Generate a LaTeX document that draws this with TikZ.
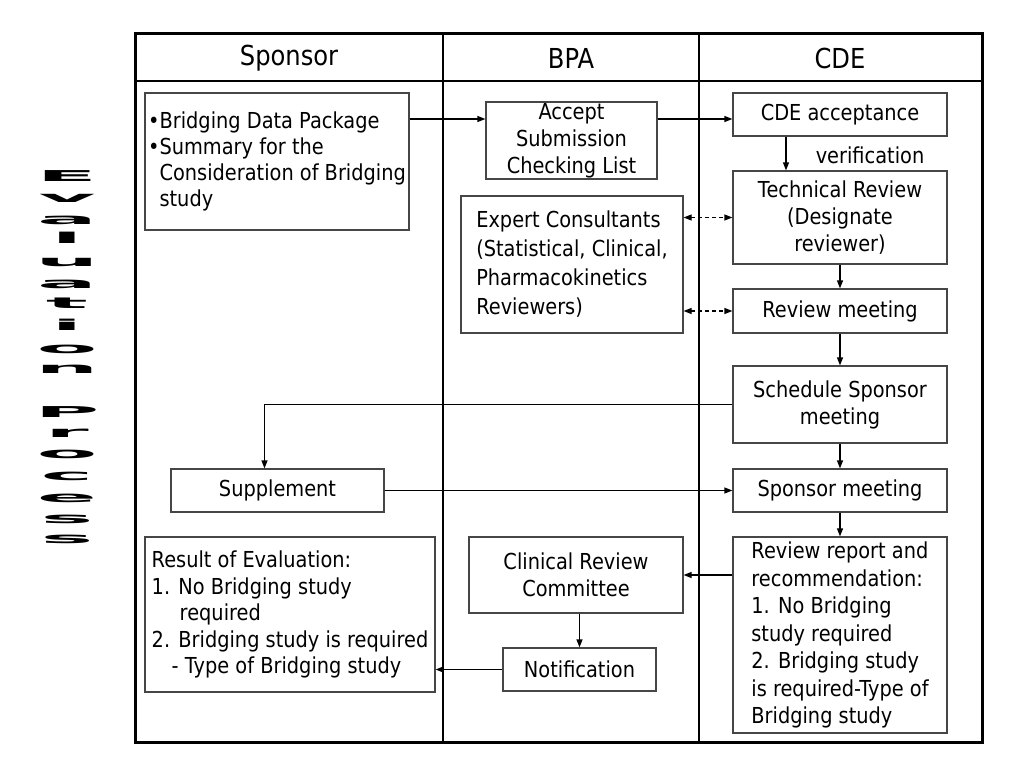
\documentclass[tikz,border=0pt]{standalone}
\usepackage{fontspec}
\setmainfont{DejaVu Sans}[FakeStretch=0.88]
\usetikzlibrary{arrows.meta,calc}
\definecolor{boxgray}{RGB}{70,70,70}
\newcommand{\vl}[1]{\scalebox{5}[0.75]{#1}}
\begin{document}
\begin{tikzpicture}[x=1pt,y=-1pt,
  box/.style={draw=boxgray,line width=1.2pt,inner sep=0pt,align=center,font=\fontsize{22}{27}\selectfont},
  arr/.style={line width=1.2pt,-{Triangle[length=8pt,width=6pt]}},
  darr/.style={line width=1.2pt,dash pattern=on 4pt off 3pt,{Triangle[length=8pt,width=6pt]}-{Triangle[length=8pt,width=6pt]}},
  head/.style={inner sep=0pt,font=\fontsize{27.5}{30}\selectfont},
  lbl/.style={inner sep=0pt,font=\fontsize{22}{27}\selectfont},
  letter/.style={anchor=base,inner sep=0pt,font=\fontsize{20}{20}\selectfont\bfseries}]
\useasboundingbox (0,0) rectangle (1024,768);
% frame
\draw[line width=3pt] (135,34) rectangle (982,742);
\draw[line width=1.3pt] (135,81) -- (982,81);
\draw[line width=1.3pt] (443,34) -- (443,742);
\draw[line width=1.3pt] (699,34) -- (699,742);
% headers
\node[head] (hs) at (289,58) {Sponsor};
\node[head] (hb) at (571,58) {BPA};
\node[head] (hc) at (840,58) {CDE};
% boxes
\node[box,align=left,minimum width=264pt,minimum height=137pt,font=\fontsize{22}{26}\selectfont] (bdp) at (277,161.5)
  {•Bridging Data Package\\•Summary for the\\\phantom{•}Consideration of Bridging\\\phantom{•}study};
\node[box,minimum width=171pt,minimum height=77pt] (accept) at (571.5,140.5) {\raisebox{-3pt}{\parbox{171pt}{\centering Accept\\Submission\\Checking List}}};
\node[box,minimum width=214pt,minimum height=43pt] (cdeacc) at (840,114.5) {CDE acceptance};
\node[lbl] (verif) at (870,155) {verification};
\node[box,minimum width=214pt,minimum height=93pt] (tech) at (840,217.5) {Technical Review\\(Designate\\reviewer)};
\node[box,align=left,minimum width=222pt,minimum height=137pt,font=\fontsize{22}{29}\selectfont] (expert) at (572,264.5)
  {Expert Consultants\\(Statistical, Clinical,\\Pharmacokinetics\\Reviewers)};
\node[box,minimum width=214pt,minimum height=44pt] (review) at (840,311) {Review meeting};
\node[box,minimum width=214pt,minimum height=77pt] (sched) at (840,404.5) {Schedule Sponsor\\meeting};
\node[box,minimum width=213pt,minimum height=43pt] (supp) at (277.5,490.5) {Supplement};
\node[box,minimum width=214pt,minimum height=43pt] (spmeet) at (840,490.5) {Sponsor meeting};
\node[box,align=left,minimum width=214pt,minimum height=196pt,font=\fontsize{22}{27.5}\selectfont] (report) at (840,635)
  {Review report and\\recommendation:\\1. No Bridging\\study required\\2. Bridging study\\is required-Type of\\Bridging study};
\node[box,align=left,minimum width=290pt,minimum height=155pt,font=\fontsize{22}{26.5}\selectfont] (result) at (290,614.5)
  {Result of Evaluation:\\1. No Bridging study\\\hspace*{28pt}required\\2. Bridging study is required\\\hspace*{20pt}- Type of Bridging study};
\node[box,minimum width=214pt,minimum height=76pt] (crc) at (576,575) {Clinical Review\\Committee};
\node[box,minimum width=153pt,minimum height=43pt] (notif) at (579.5,669.5) {Notification};
% connectors
\coordinate (row1) at (0,119);
\draw[arr] (bdp.east |- row1) -- (accept.west |- row1);
\draw[arr] (accept.east |- row1) -- (cdeacc.west |- row1);
\draw[arr] ($(cdeacc.south)+(-54,0)$) -- ($(tech.north)+(-54,0)$);
\draw[arr] (tech.south) -- (review.north);
\draw[darr] (expert.east |- tech) -- (tech.west);
\draw[darr] (expert.east |- review) -- (review.west);
\draw[arr] (review.south) -- (sched.north);
\draw[arr] (sched.west) -| ($(supp.north)+(-13,0)$);
\draw[arr] (supp.east) -- (spmeet.west);
\draw[arr] (sched.south) -- (spmeet.north);
\draw[arr] (spmeet.south) -- (report.north);
\draw[arr] (report.west |- crc) -- (crc.east);
\draw[arr] (crc.south -| notif) -- (notif.north);
\draw[arr] (notif.west) -- (notif.west -| result.east);
% vertical title
\node[letter] (l1) at (67,181) {\vl{E}};
\node[letter] (l2) at (67,202) {\vl{v}};
\node[letter] (l3) at (67,224) {\vl{a}};
\node[letter] (l4) at (67,243) {\vl{l}};
\node[letter] (l5) at (67,266) {\vl{u}};
\node[letter] (l6) at (67,288) {\vl{a}};
\node[letter] (l7) at (67,308) {\vl{t}};
\node[letter] (l8) at (67,330) {\vl{i}};
\node[letter] (l9) at (67,353) {\vl{o}};
\node[letter] (l10) at (67,373) {\vl{n}};
\node[letter] (l11) at (67,417) {\vl{P}};
\node[letter] (l12) at (67,437) {\vl{r}};
\node[letter] (l13) at (67,458) {\vl{o}};
\node[letter] (l14) at (67,480) {\vl{c}};
\node[letter] (l15) at (67,502) {\vl{e}};
\node[letter] (l16) at (67,523) {\vl{s}};
\node[letter] (l17) at (67,543) {\vl{s}};
\end{tikzpicture}
\end{document}
